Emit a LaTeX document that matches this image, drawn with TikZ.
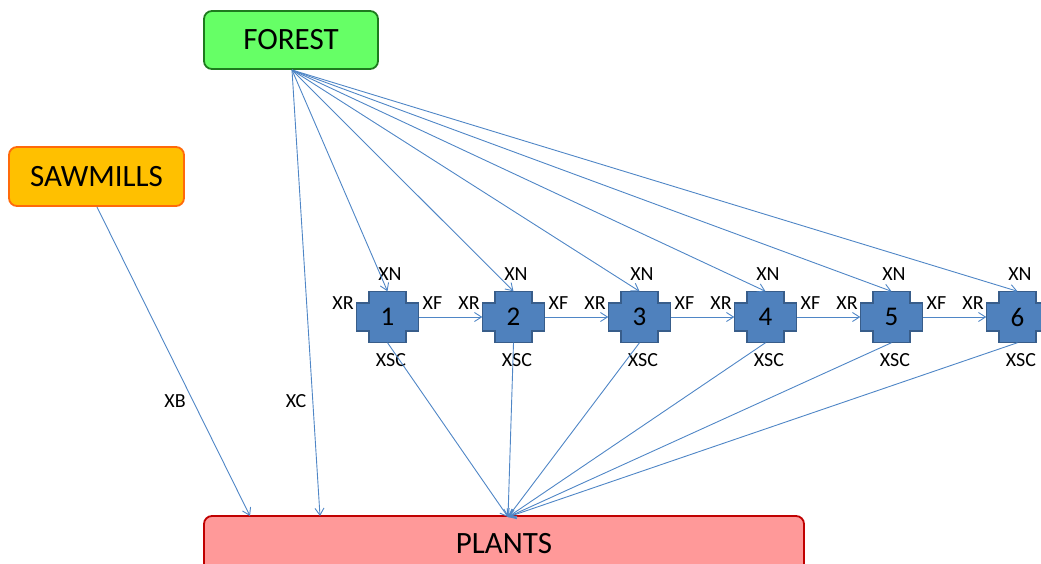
\documentclass[tikz,border=0pt]{standalone}
\usepackage{fontspec}
\setmainfont{Carlito}
\usetikzlibrary{arrows.meta}
\definecolor{lineblue}{HTML}{4F86C6}
\definecolor{crossfill}{HTML}{4F81BD}
\definecolor{crossdraw}{HTML}{385D8A}
\definecolor{forestfill}{HTML}{66FF66}
\definecolor{forestdraw}{HTML}{1E7A1E}
\definecolor{sawfill}{HTML}{FFC000}
\definecolor{sawdraw}{HTML}{FF6A0A}
\definecolor{plantfill}{HTML}{FF9999}
\definecolor{plantdraw}{HTML}{C00000}
\tikzset{
  bigbox/.style={rounded corners=8pt, line width=1.8pt, inner sep=0pt, font=\fontsize{31}{32}\selectfont},
  flow/.style={draw=lineblue, line width=0.9pt, -{Straight Barb[length=7pt,width=9pt]}},
  lab/.style={font=\fontsize{20}{21}\selectfont, inner sep=0pt},
  crossnode/.style={minimum width=36.6pt, minimum height=51pt, inner sep=0pt, font=\fontsize{27}{28}\selectfont},
}
\begin{document}
\begin{tikzpicture}[x=1pt,y=-1pt]
\useasboundingbox (0,0) rectangle (1041,563);
\node[bigbox, fill=forestfill, draw=forestdraw, minimum width=174pt, minimum height=58pt] (forest) at (291,40) {\raisebox{-2pt}{FOREST}};
\node[bigbox, fill=sawfill, draw=sawdraw, minimum width=175pt, minimum height=59pt] (saw) at (96.5,176.5) {\raisebox{-1pt}{SAWMILLS}};
\node[bigbox, fill=plantfill, draw=plantdraw, minimum width=600pt, minimum height=56pt] (plants) at (504,544) {\raisebox{1pt}{PLANTS}};
\coordinate (fo) at (292,70);
\coordinate (pin) at (508,517);
\coordinate (pxc) at (320,516);
\coordinate (pxb) at (250,516);
\coordinate (sawout) at (97,207);
\foreach \i/\cx in {1/387.5,2/513.5,3/639.5,4/765.5,5/891.5,6/1017.5}{
  \filldraw[fill=crossfill, draw=crossdraw, line width=1.8pt]
    (\cx-18.3,291.5) -- (\cx+18.3,291.5) -- (\cx+18.3,303.2) -- (\cx+31,303.2) -- (\cx+31,331) -- (\cx+18.3,331)
    -- (\cx+18.3,342.5) -- (\cx-18.3,342.5) -- (\cx-18.3,331) -- (\cx-31,331) -- (\cx-31,303.2) -- (\cx-18.3,303.2) -- cycle;
  \node[crossnode] (c\i) at (\cx,317) {\i};
  \node[lab] (xn\i) at (\cx+2.5,274) {XN};
  \node[lab] (xr\i) at (\cx-44.5,303) {XR};
  \node[lab] (xf\i) at (\cx+45,303) {XF};
  \node[lab] (xsc\i) at (\cx+3.5,360) {XSC};
  \draw[flow] (fo) -- (c\i.north);
  \draw[flow] (c\i.south) -- (pin);
}
\foreach \a/\b in {1/2,2/3,3/4,4/5,5/6}{
  \draw[flow, shorten <=12.7pt, shorten >=12.7pt] (c\a.east) -- (c\b.west);
}
\draw[flow] (fo) -- (pxc);
\draw[flow] (sawout) -- (pxb);
\node[lab] (xb) at (175,401) {XB};
\node[lab] (xc) at (296,401) {XC};
\end{tikzpicture}
\end{document}
